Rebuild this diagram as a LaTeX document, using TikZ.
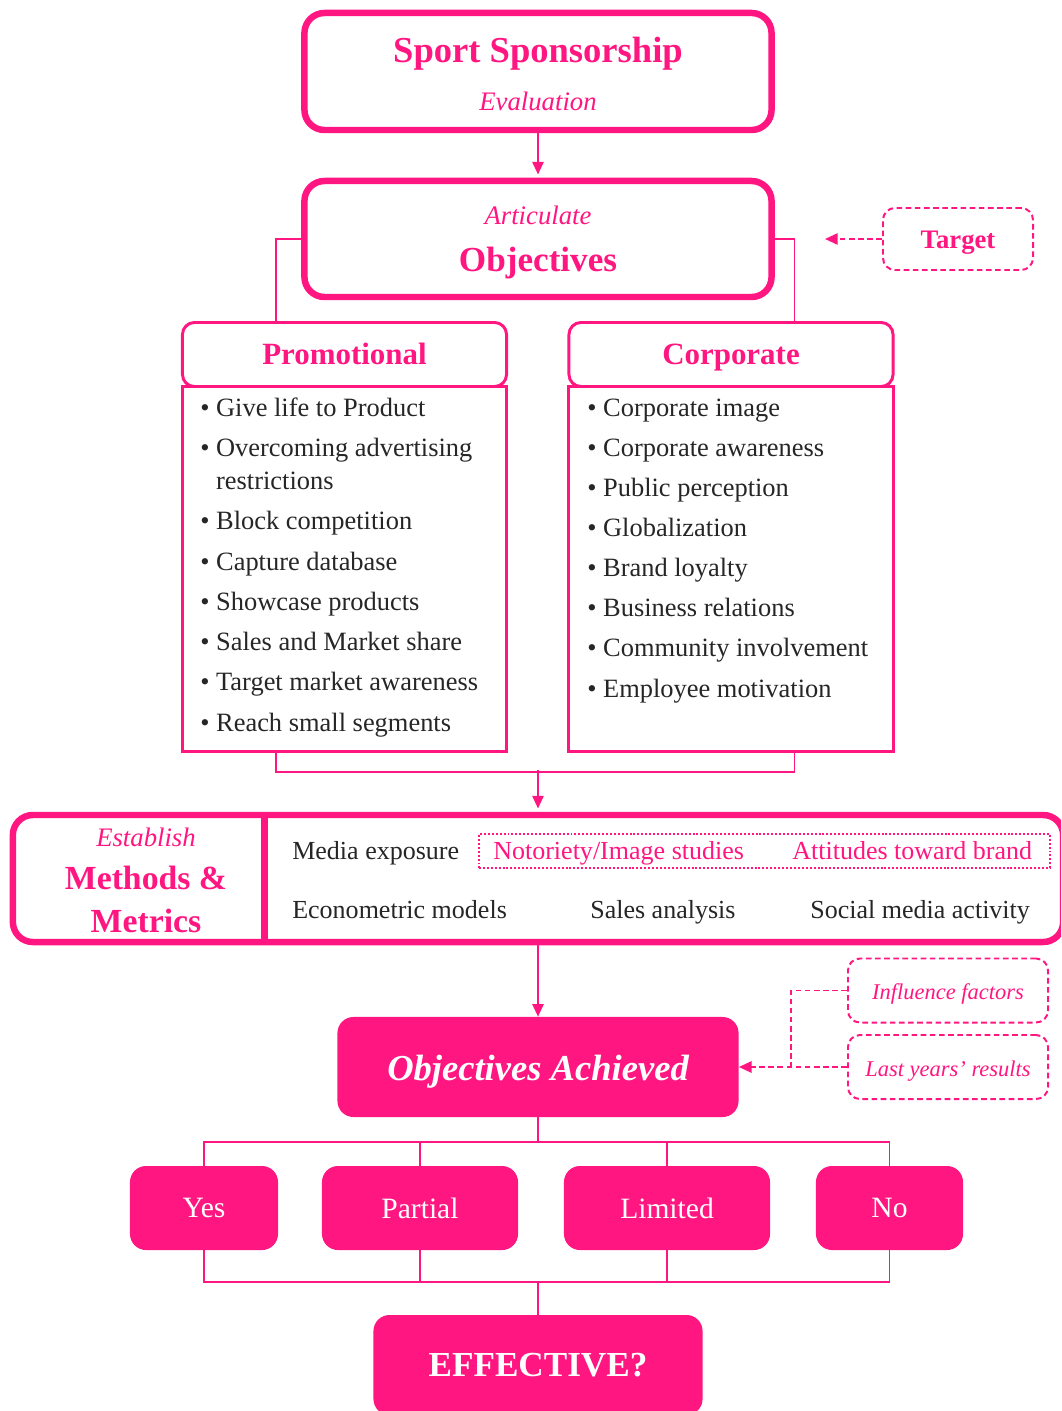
\documentclass[tikz,border=0pt]{standalone}
\usepackage{fontspec}
\setmainfont{Liberation Serif}
\usetikzlibrary{arrows.meta, positioning, calc}
\definecolor{sppink}{RGB}{255,22,128}

\tikzset{
  bigbox/.style={draw=sppink, line width=4.6pt, rounded corners=0.5cm, fill=white, align=center, text=sppink},
  headbox/.style={draw=sppink, line width=2.1pt, rounded corners=0.3cm, fill=white, minimum width=8.1cm, minimum height=1.6cm, text=sppink, text height=15.6pt, text depth=1.8pt, font=\fontsize{22}{26}\selectfont\bfseries},
  listbox/.style={draw=sppink, line width=2.1pt, minimum width=8.1cm, minimum height=9.1cm},
  listitem/.style={anchor=west, inner sep=0pt, text=black!85, align=left, font=\fontsize{18.8}{22}\selectfont, text height=1.6ex, text depth=.4ex},
  mtext/.style={anchor=west, inner sep=0pt, text=black!85, text height=1.6ex, text depth=.4ex, font=\fontsize{18.5}{22}\selectfont},
  dashbox/.style={draw=sppink, dash pattern=on 4pt off 2.5pt, line width=1.4pt, rounded corners=0.3cm, text=sppink, text height=15.2pt, text depth=2pt},
  dotbox/.style={draw=sppink, dash pattern=on 1.4pt off 1.4pt, line width=1.4pt},
  solidbox/.style={fill=sppink, rounded corners=0.4cm, text=white, font=\fontsize{21}{25}\selectfont},
  conn/.style={draw=sppink, line width=1.4pt},
  arr/.style={conn, -{Triangle[length=9pt, width=8pt]}},
  dashconn/.style={conn, dash pattern=on 4pt off 2.5pt},
  dasharr/.style={dashconn, -{Triangle[length=9pt, width=8pt]}},
}

\begin{document}
\begin{tikzpicture}[x=0.025cm, y=-0.025cm]
\clip (0,0) rectangle (1061,1411);

% evaluation and objectives
\node[bigbox, minimum width=11.675cm, minimum height=2.925cm, font=\fontsize{19}{34}\selectfont] (spons) at (538,71.5)
  {{\fontsize{26}{34}\selectfont\bfseries\rule{0pt}{21pt}Sport Sponsorship}\\{\itshape Evaluation}};
\node[bigbox, minimum width=11.675cm, minimum height=2.9cm, font=\fontsize{19}{34}\selectfont] (obj) at (538,239)
  {{\itshape\rule{0pt}{18pt}Articulate}\\{\fontsize{25}{34}\selectfont\bfseries Objectives}};
\draw[arr, shorten >=2.3pt] (spons.south) -- (obj.north);

\node[dashbox, minimum width=3.75cm, minimum height=1.55cm, font=\fontsize{19}{22}\selectfont\bfseries] (target) at (958,239) {Target};
\coordinate (objaim) at (825,239);
\draw[dasharr] (target.west) -- (objaim);

% promotional
\node[listbox] (promlist) at (344.5,569) {};
\node[headbox] (promhead) at (344.5,354.5) {Promotional};
\foreach \yy/\txt [count=\i] in {408/\textbullet~Give life to Product,
    448/\textbullet~Overcoming advertising,
    481/\phantom{\textbullet~}restrictions,
    521/\textbullet~Block competition,
    562/\textbullet~Capture database,
    602/\textbullet~Showcase products,
    642/\textbullet~Sales and Market share,
    682/\textbullet~Target market awareness,
    723/\textbullet~Reach small segments}
  \node[listitem] (prom\i) at (200,\yy+5) {\txt};

% corporate
\node[listbox] (corplist) at (731,569) {};
\node[headbox] (corphead) at (731,354.5) {Corporate};
\foreach \yy/\txt [count=\i] in {408/Corporate image,
    448/Corporate awareness,
    488/Public perception,
    528/Globalization,
    568/Brand loyalty,
    608/Business relations,
    648/Community involvement,
    689/Employee motivation}
  \node[listitem] (corp\i) at (587,\yy+5) {\textbullet~\txt};

\draw[conn] (obj.west) -| ($(promhead.north west)+(95,0)$);
\draw[conn] (obj.east) -| ($(corphead.north west)+(227,0)$);
\coordinate (listjoin) at (538,770);
\draw[conn] ($(promlist.south west)+(95,0)$) |- ($(corplist.south west)+(227,19)$) -- ($(corplist.south west)+(227,0)$);

% methods & metrics
\node[bigbox, minimum width=26.25cm, minimum height=3.175cm] (meth) at (538,878.5) {};
\draw[sppink, line width=4.6pt] ($(meth.north west)+(255,0)$) -- ($(meth.south west)+(255,0)$);
\draw[arr, shorten >=2.3pt] (listjoin) -- (meth.north);
\node[align=center, text=sppink, font=\fontsize{24}{30.5}\selectfont] (methlabel) at (146,880)
  {{\fontsize{19}{30.5}\selectfont\itshape Establish}\\{\bfseries Methods \&}\\{\bfseries Metrics}};
\node[dotbox, minimum width=14.275cm, minimum height=0.85cm] (percep) at (764.5,851) {};
\node[mtext] (media) at (292,856) {Media exposure};
\node[mtext, text=sppink] (notor) at (493,856) {Notoriety/Image studies};
\node[mtext, text=sppink] (attit) at (792,856) {Attitudes toward brand};
\node[mtext] (econ) at (292,915) {Econometric models};
\node[mtext] (sales) at (590,915) {Sales analysis};
\node[mtext] (social) at (810,915) {Social media activity};

% achievement
\node[solidbox, minimum width=10.025cm, minimum height=2.5cm, text height=21pt, text depth=2pt, font=\fontsize{26}{30}\selectfont\bfseries\itshape] (ach) at (538,1067) {Objectives Achieved};
\draw[arr] (meth.south) -- (ach.north);
\node[dashbox, minimum width=5.0cm, minimum height=1.6cm, font=\fontsize{16}{19}\selectfont\itshape] (infl) at (948,990.5) {Influence factors};
\node[dashbox, minimum width=5.0cm, minimum height=1.6cm, font=\fontsize{16}{19}\selectfont\itshape] (last) at (948,1067) {Last years’ results};
\coordinate (merge) at (791,1067);
\draw[dashconn] (infl.west) -| (merge);
\draw[dasharr] (last.west) -- (ach.east);

% outcomes
\node[solidbox, minimum width=3.7cm, minimum height=2.1cm] (yes) at (204,1208) {Yes};
\node[solidbox, minimum width=4.9cm, minimum height=2.1cm] (partial) at (420,1208) {Partial};
\node[solidbox, minimum width=5.15cm, minimum height=2.1cm] (limited) at (667,1208) {Limited};
\node[solidbox, minimum width=3.675cm, minimum height=2.1cm] (no) at (889.5,1208) {No};
\node[solidbox, minimum width=8.225cm, minimum height=2.5cm, font=\fontsize{25}{30}\selectfont\bfseries] (eff) at (538,1365) {EFFECTIVE?};

\coordinate (split) at (538,1142);
\draw[conn] (ach.south) -- (split);
\draw[conn] (yes.north) |- (split) -| (no.north);
\draw[conn] (partial.north) -- (partial.north |- split);
\draw[conn] (limited.north) -- (limited.north |- split);
\coordinate (verdict) at (538,1282);
\draw[conn] (yes.south) |- (verdict) -| (no.south);
\draw[conn] (partial.south) -- (partial.south |- verdict);
\draw[conn] (limited.south) -- (limited.south |- verdict);
\draw[conn] (verdict) -- (eff.north);
\end{tikzpicture}
\end{document}
